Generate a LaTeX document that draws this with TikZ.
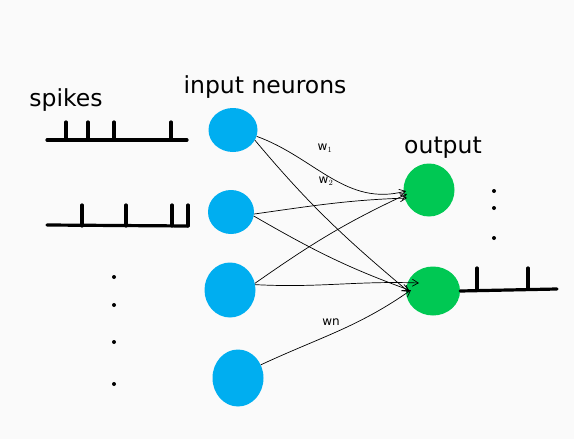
\documentclass[tikz,border=0pt]{standalone}
\usepackage{fontspec}
\setmainfont{DejaVu Sans}
\usetikzlibrary{shapes.geometric,arrows.meta}
\definecolor{inblue}{HTML}{00AEF0}
\definecolor{outgreen}{HTML}{00C853}
\definecolor{bg}{HTML}{FAFAFA}
\tikzset{
  inneuron/.style={ellipse, fill=inblue, inner sep=0pt},
  outneuron/.style={ellipse, fill=outgreen, inner sep=0pt},
  syn/.style={black, line width=0.7pt, -{Straight Barb[length=6pt,width=7pt]}},
  train/.style={black, line width=3.2pt, line cap=round},
  dotmark/.style={circle, fill=black, inner sep=0pt, minimum size=4pt},
  title/.style={font=\fontsize{23.5}{26}\selectfont},
  wlabel/.style={font=\fontsize{12}{14}\selectfont}
}
\begin{document}
\begin{tikzpicture}[x=1pt,y=-1pt]
\fill[bg] (0,0) rectangle (574,439);
\useasboundingbox (0,0) rectangle (574,439);

% input neurons
\node[inneuron, minimum width=49pt, minimum height=44pt] (n1) at (233,130) {};
\node[inneuron, minimum width=46pt, minimum height=44pt] (n2) at (231,212) {};
\node[inneuron, minimum width=51pt, minimum height=55pt] (n3) at (230,290) {};
\node[inneuron, minimum width=51pt, minimum height=57pt] (n4) at (238,378) {};
% output neurons
\node[outneuron, minimum width=51pt, minimum height=53pt] (o1) at (429,190) {};
\node[outneuron, minimum width=54pt, minimum height=49pt] (o2) at (433,291) {};

% titles
\node[title] (tspikes) at (66,100) {spikes};
\node[title] (tinput) at (265,87) {input neurons};
\node[title] (toutput) at (443,148) {output};

% connection end points
\coordinate (a1) at (406,191);
\coordinate (a2) at (407,198);
\coordinate (a3) at (407,194);
\coordinate (b1) at (409,292);
\coordinate (b2) at (409,290);
\coordinate (b3) at (419,283);
\coordinate (b4) at (411,290);

\draw[syn] (n1.-15) to[out=-20,in=195] (a1);
\draw[syn] (n1.-25) to[out=-50,in=140] (b1);
\draw[syn] (n2.-5) to[out=8,in=182] (a2);
\draw[syn] (n2.-10) to[out=-30,in=160] (b2);
\draw[syn] (n3.15) to[out=35,in=205] (a3);
\draw[syn] (n3.12) to[out=-3,in=178] (b3);
\draw[syn] (n4.30) to[out=25,in=215] (b4);

% weight labels
\node[wlabel] (w1) at (325,148) {w$_1$};
\node[wlabel] (w2) at (326,181) {w$_2$};
\node[wlabel] (wn) at (331,322) {wn};

% spike train 1
\coordinate (s1a) at (47,140);
\coordinate (s1b) at (187,140);
\draw[train] (s1a) -- (s1b);
\foreach \x in {66,88,114,171} \draw[train] (\x,140) -- (\x,122);
% spike train 2
\coordinate (s2a) at (47,225);
\coordinate (s2b) at (188,226);
\draw[train] (s2a) -- (s2b);
\foreach \x in {82,126,172,188} \draw[train] (\x,226) -- (\x,205);
% output spike train
\coordinate (s3a) at (o2.east);
\coordinate (s3b) at (557,289);
\draw[train] (s3a) -- (s3b);
\foreach \x in {477,528} \draw[train] (\x,289) -- (\x,268);

% dots
\foreach \y in {277,305,342,384} \node[dotmark] at (114,\y) {};
\foreach \y in {191,208,238} \node[dotmark] at (494,\y) {};
\end{tikzpicture}
\end{document}
